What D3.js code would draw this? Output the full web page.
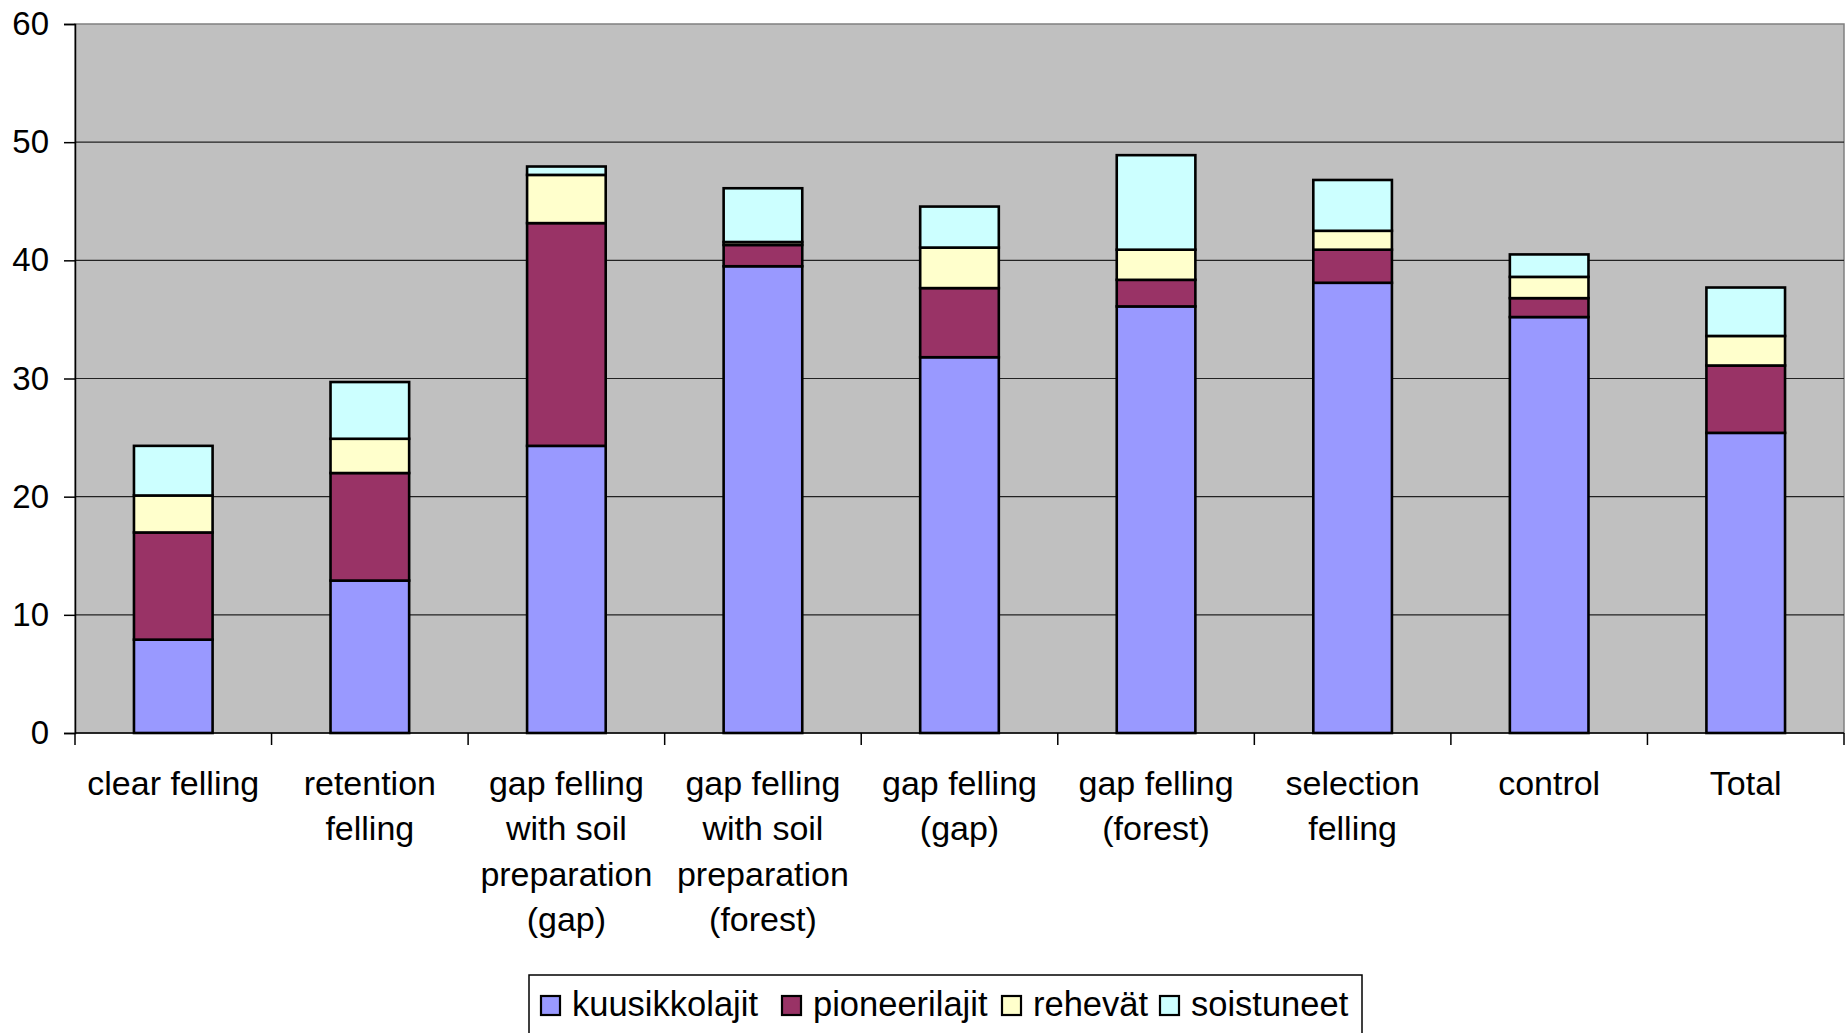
<!DOCTYPE html>
<html>
<head>
<meta charset="utf-8">
<script src="https://cdn.jsdelivr.net/npm/d3@7"></script>
<style>
  html, body { margin: 0; padding: 0; background: #ffffff; }
  svg { display: block; }
  text { font-family: "Liberation Sans", Arial, sans-serif; fill: #000; }
</style>
</head>
<body>
<svg id="chart" width="1846" height="1033"></svg>
<script>
// Treatment categories (multi-line labels)
const categories = [
  ["clear felling"],
  ["retention", "felling"],
  ["gap felling", "with soil", "preparation", "(gap)"],
  ["gap felling", "with soil", "preparation", "(forest)"],
  ["gap felling", "(gap)"],
  ["gap felling", "(forest)"],
  ["selection", "felling"],
  ["control"],
  ["Total"]
];

const seriesNames = ["kuusikkolajit", "pioneerilajit", "rehevät", "soistuneet"];
const seriesColors = ["#9999FF", "#993366", "#FFFFCC", "#CCFFFF"];

const kuusikkolajit = [7.9, 12.9, 24.3, 39.5, 31.8, 36.1, 38.1, 35.2, 25.4];
const pioneerilajit = [9.07, 9.1, 18.85, 1.8, 5.85, 2.25, 2.8, 1.6, 5.7];
const rehevat       = [3.13, 2.9, 4.08, 0.25, 3.43, 2.55, 1.6, 1.8, 2.5];
const soistuneet    = [4.2, 4.8, 0.71, 4.55, 3.47, 8.0, 4.3, 1.9, 4.1];

const yTicks = [0, 10, 20, 30, 40, 50, 60];

const svg = d3.select("#chart");
const plot = { left: 75, right: 1844, top: 24, bottom: 733 };

const keys = categories.map((c, i) => "c" + i);
const rows = keys.map((k, i) => ({
  key: k,
  kuusikkolajit: kuusikkolajit[i],
  pioneerilajit: pioneerilajit[i],
  "rehevät": rehevat[i],
  soistuneet: soistuneet[i]
}));

const x = d3.scaleBand().domain(keys).range([plot.left, plot.right]).paddingInner(0.6).paddingOuter(0.3);
const xEdge = d3.scaleBand().domain(keys).range([plot.left, plot.right]).padding(0);
const y = d3.scaleLinear().domain([0, 60]).range([plot.bottom, plot.top]);

// plot background
svg.append("rect")
  .attr("x", plot.left).attr("y", plot.top)
  .attr("width", plot.right - plot.left).attr("height", plot.bottom - plot.top)
  .attr("fill", "#C0C0C0").attr("stroke", "#808080").attr("stroke-width", 1.5);

// horizontal gridlines
svg.append("g").selectAll("line").data(yTicks.filter(d => d > 0 && d < 60)).join("line")
  .attr("x1", plot.left).attr("x2", plot.right)
  .attr("y1", d => y(d)).attr("y2", d => y(d))
  .attr("stroke", "#222").attr("stroke-width", 1.2);

// stacked bars
const stack = d3.stack().keys(seriesNames);
const layers = stack(rows);
svg.append("g").selectAll("g").data(layers).join("g")
  .attr("fill", (d, i) => seriesColors[i])
  .selectAll("rect").data(d => d).join("rect")
  .attr("x", d => x(d.data.key))
  .attr("width", x.bandwidth())
  .attr("y", d => y(d[1]))
  .attr("height", d => y(d[0]) - y(d[1]))
  .attr("stroke", "#000").attr("stroke-width", 2.6);

// y axis
const yAxis = svg.append("g").attr("transform", `translate(${plot.left},0)`)
  .call(d3.axisLeft(y).tickValues(yTicks).tickSize(11).tickPadding(15));
yAxis.select(".domain").attr("stroke", "#000").attr("stroke-width", 1.5);
yAxis.selectAll(".tick line").attr("stroke", "#000").attr("stroke-width", 1.5);
yAxis.selectAll(".tick text")
  .style("font-family", '"Liberation Sans", Arial, sans-serif')
  .attr("font-size", 33).attr("fill", "#000");

// x axis line with ticks at category boundaries
const xg = svg.append("g");
xg.append("line").attr("x1", plot.left).attr("x2", plot.right)
  .attr("y1", plot.bottom).attr("y2", plot.bottom)
  .attr("stroke", "#000").attr("stroke-width", 1.5);
const edges = keys.map(k => xEdge(k)).concat([plot.right]);
xg.selectAll("line.tk").data(edges).join("line").attr("class", "tk")
  .attr("x1", d => d).attr("x2", d => d)
  .attr("y1", plot.bottom).attr("y2", plot.bottom + 12)
  .attr("stroke", "#000").attr("stroke-width", 1.5);

// category labels
const lab = svg.append("g").selectAll("text").data(categories).join("text")
  .attr("text-anchor", "middle")
  .attr("font-size", 34)
  .attr("x", (d, i) => xEdge(keys[i]) + xEdge.bandwidth() / 2)
  .attr("y", 795);
lab.selectAll("tspan").data(d => d).join("tspan")
  .attr("x", function () { return d3.select(this.parentNode).attr("x"); })
  .attr("dy", (d, i) => i === 0 ? 0 : 45.3)
  .text(d => d);

// legend: framed box with one swatch + label per series
const legendBox = { x: 529, y: 975, w: 833, h: 70 };
const legendSlots = [541, 782, 1002, 1160];
const legend = svg.append("g");
legend.append("rect")
  .attr("x", legendBox.x).attr("y", legendBox.y)
  .attr("width", legendBox.w).attr("height", legendBox.h)
  .attr("fill", "#fff").attr("stroke", "#000").attr("stroke-width", 1.5);
const item = legend.selectAll("g.item").data(seriesNames).join("g")
  .attr("class", "item")
  .attr("transform", (d, i) => `translate(${legendSlots[i]},0)`);
item.append("rect")
  .attr("x", 0).attr("y", 996).attr("width", 19).attr("height", 19)
  .attr("fill", (d, i) => seriesColors[i]).attr("stroke", "#000").attr("stroke-width", 2.2);
item.append("text")
  .attr("x", 31).attr("y", 1016)
  .attr("font-size", 34.5).text(d => d);
</script>
</body>
</html>
